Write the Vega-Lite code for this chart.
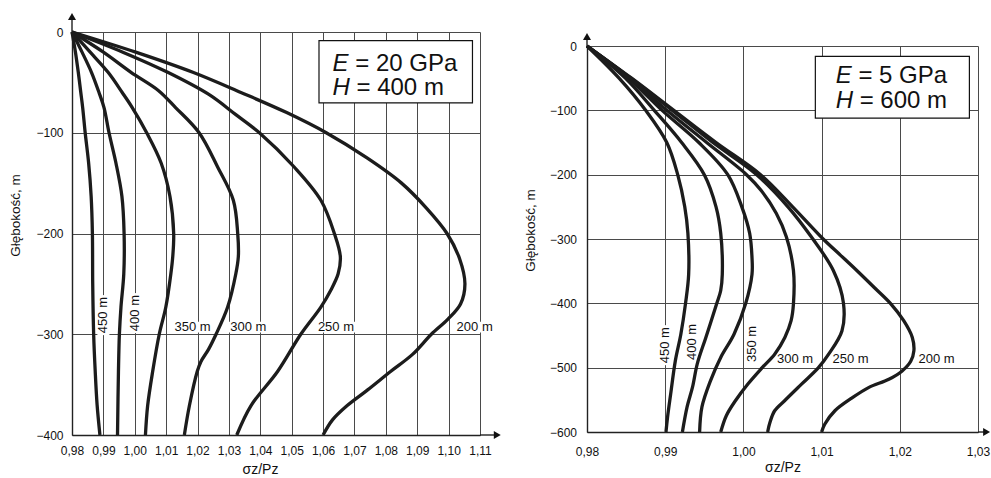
{
  "$schema": "https://vega.github.io/schema/vega-lite/v6.json",
  "background": "white",
  "padding": {"left": 8, "top": 13, "right": 0, "bottom": 0},
  "spacing": 22,
  "config": {
    "view": {"stroke": null},
    "font": "Liberation Sans",
    "axis": {
      "labelFont": "Liberation Sans", "labelFontSize": 12, "labelColor": "#111",
      "titleFont": "Liberation Sans", "titleFontWeight": "normal", "titleColor": "#111",
      "ticks": false, "gridColor": "#4a4a4a", "gridWidth": 1, "gridOpacity": 1,
      "domainColor": "#222", "domainWidth": 1.4,
      "labelOverlap": false, "labelFlush": false, "labelBound": false
    }
  },
  "datasets": {
    "L_curves": [
      {"c":"200 m","y":0,"x":0.98},{"c":"200 m","y":-20,"x":1.0003},{"c":"200 m","y":-40,"x":1.0185},{"c":"200 m","y":-60,"x":1.0338},{"c":"200 m","y":-80,"x":1.0484},{"c":"200 m","y":-100,"x":1.061},{"c":"200 m","y":-125,"x":1.074},{"c":"200 m","y":-150,"x":1.085},{"c":"200 m","y":-175,"x":1.093},{"c":"200 m","y":-200,"x":1.0995},{"c":"200 m","y":-225,"x":1.1035},{"c":"200 m","y":-250,"x":1.1052},{"c":"200 m","y":-270,"x":1.1038},{"c":"200 m","y":-285,"x":1.0998},{"c":"200 m","y":-300,"x":1.0945},{"c":"200 m","y":-320,"x":1.0885},{"c":"200 m","y":-337,"x":1.0815},{"c":"200 m","y":-355,"x":1.0743},{"c":"200 m","y":-371,"x":1.0676},{"c":"200 m","y":-385,"x":1.063},{"c":"200 m","y":-400,"x":1.06},
      {"c":"250 m","y":0,"x":0.98},{"c":"250 m","y":-20,"x":0.9962},{"c":"250 m","y":-40,"x":1.0105},{"c":"250 m","y":-62,"x":1.0236},{"c":"250 m","y":-82,"x":1.0322},{"c":"250 m","y":-100,"x":1.0397},{"c":"250 m","y":-134,"x":1.0508},{"c":"250 m","y":-167,"x":1.0593},{"c":"250 m","y":-200,"x":1.0636},{"c":"250 m","y":-223,"x":1.0655},{"c":"250 m","y":-240,"x":1.0648},{"c":"250 m","y":-256,"x":1.0625},{"c":"250 m","y":-273,"x":1.0593},{"c":"250 m","y":-300,"x":1.0529},{"c":"250 m","y":-337,"x":1.0455},{"c":"250 m","y":-371,"x":1.037},{"c":"250 m","y":-400,"x":1.0325},
      {"c":"300 m","y":0,"x":0.98},{"c":"300 m","y":-20,"x":0.99},{"c":"300 m","y":-40,"x":0.9988},{"c":"300 m","y":-58,"x":1.0075},{"c":"300 m","y":-75,"x":1.013},{"c":"300 m","y":-100,"x":1.0205},{"c":"300 m","y":-134,"x":1.0264},{"c":"300 m","y":-167,"x":1.0314},{"c":"300 m","y":-200,"x":1.0328},{"c":"300 m","y":-223,"x":1.033},{"c":"300 m","y":-240,"x":1.0322},{"c":"300 m","y":-273,"x":1.0296},{"c":"300 m","y":-300,"x":1.0259},{"c":"300 m","y":-315,"x":1.0235},{"c":"300 m","y":-327,"x":1.0211},{"c":"300 m","y":-337,"x":1.0199},{"c":"300 m","y":-371,"x":1.0174},{"c":"300 m","y":-400,"x":1.0158},
      {"c":"350 m","y":0,"x":0.98},{"c":"350 m","y":-20,"x":0.9858},{"c":"350 m","y":-40,"x":0.9915},{"c":"350 m","y":-60,"x":0.996},{"c":"350 m","y":-75,"x":0.9992},{"c":"350 m","y":-100,"x":1.0038},{"c":"350 m","y":-130,"x":1.0084},{"c":"350 m","y":-163,"x":1.0112},{"c":"350 m","y":-200,"x":1.0124},{"c":"350 m","y":-223,"x":1.0121},{"c":"350 m","y":-240,"x":1.0115},{"c":"350 m","y":-273,"x":1.0099},{"c":"350 m","y":-300,"x":1.0078},{"c":"350 m","y":-337,"x":1.0057},{"c":"350 m","y":-371,"x":1.0041},{"c":"350 m","y":-400,"x":1.0034},
      {"c":"400 m","y":0,"x":0.98},{"c":"400 m","y":-20,"x":0.9832},{"c":"400 m","y":-40,"x":0.9862},{"c":"400 m","y":-60,"x":0.9886},{"c":"400 m","y":-75,"x":0.9902},{"c":"400 m","y":-100,"x":0.9918},{"c":"400 m","y":-130,"x":0.994},{"c":"400 m","y":-163,"x":0.9959},{"c":"400 m","y":-200,"x":0.9966},{"c":"400 m","y":-240,"x":0.9965},{"c":"400 m","y":-273,"x":0.9956},{"c":"400 m","y":-300,"x":0.9951},{"c":"400 m","y":-337,"x":0.9948},{"c":"400 m","y":-400,"x":0.9945},
      {"c":"450 m","y":0,"x":0.98},{"c":"450 m","y":-20,"x":0.9811},{"c":"450 m","y":-40,"x":0.982},{"c":"450 m","y":-60,"x":0.9828},{"c":"450 m","y":-75,"x":0.9834},{"c":"450 m","y":-100,"x":0.9842},{"c":"450 m","y":-130,"x":0.9853},{"c":"450 m","y":-163,"x":0.9861},{"c":"450 m","y":-200,"x":0.9865},{"c":"450 m","y":-250,"x":0.9866},{"c":"450 m","y":-300,"x":0.9869},{"c":"450 m","y":-337,"x":0.9874},{"c":"450 m","y":-370,"x":0.988},{"c":"450 m","y":-400,"x":0.9889}
    ],
    "R_curves": [
      {"c":"200 m","y":0,"x":0.98},{"c":"200 m","y":-50,"x":0.9857},{"c":"200 m","y":-100,"x":0.9911},{"c":"200 m","y":-150,"x":0.9965},{"c":"200 m","y":-200,"x":1.0022},{"c":"200 m","y":-250,"x":1.0063},{"c":"200 m","y":-300,"x":1.0102},{"c":"200 m","y":-325,"x":1.0124},{"c":"200 m","y":-349,"x":1.0145},{"c":"200 m","y":-375,"x":1.0167},{"c":"200 m","y":-400,"x":1.0188},{"c":"200 m","y":-427,"x":1.0205},{"c":"200 m","y":-453,"x":1.0216},{"c":"200 m","y":-474,"x":1.0218},{"c":"200 m","y":-490,"x":1.0214},{"c":"200 m","y":-505,"x":1.0203},{"c":"200 m","y":-518,"x":1.0186},{"c":"200 m","y":-531,"x":1.016},{"c":"200 m","y":-547,"x":1.0139},{"c":"200 m","y":-567,"x":1.0117},{"c":"200 m","y":-588,"x":1.0104},{"c":"200 m","y":-600,"x":1.01},
      {"c":"250 m","y":0,"x":0.98},{"c":"250 m","y":-50,"x":0.9856},{"c":"250 m","y":-100,"x":0.9909},{"c":"250 m","y":-150,"x":0.9961},{"c":"250 m","y":-200,"x":1.0017},{"c":"250 m","y":-250,"x":1.0057},{"c":"250 m","y":-297,"x":1.0087},{"c":"250 m","y":-349,"x":1.0115},{"c":"250 m","y":-400,"x":1.0128},{"c":"250 m","y":-443,"x":1.0126},{"c":"250 m","y":-479,"x":1.0109},{"c":"250 m","y":-500,"x":1.0096},{"c":"250 m","y":-526,"x":1.0074},{"c":"250 m","y":-551,"x":1.0053},{"c":"250 m","y":-567,"x":1.004},{"c":"250 m","y":-585,"x":1.0034},{"c":"250 m","y":-600,"x":1.0031},
      {"c":"300 m","y":0,"x":0.98},{"c":"300 m","y":-50,"x":0.9855},{"c":"300 m","y":-100,"x":0.9902},{"c":"300 m","y":-150,"x":0.9953},{"c":"300 m","y":-200,"x":1.0004},{"c":"300 m","y":-225,"x":1.0023},{"c":"300 m","y":-260,"x":1.0042},{"c":"300 m","y":-297,"x":1.0055},{"c":"300 m","y":-349,"x":1.0064},{"c":"300 m","y":-401,"x":1.0064},{"c":"300 m","y":-427,"x":1.0061},{"c":"300 m","y":-453,"x":1.0053},{"c":"300 m","y":-479,"x":1.004},{"c":"300 m","y":-500,"x":1.0024},{"c":"300 m","y":-525,"x":1.0006},{"c":"300 m","y":-551,"x":0.999},{"c":"300 m","y":-575,"x":0.9978},{"c":"300 m","y":-600,"x":0.9971},
      {"c":"350 m","y":0,"x":0.98},{"c":"350 m","y":-50,"x":0.9853},{"c":"350 m","y":-100,"x":0.9896},{"c":"350 m","y":-150,"x":0.9943},{"c":"350 m","y":-200,"x":0.998},{"c":"350 m","y":-250,"x":0.9998},{"c":"350 m","y":-291,"x":1.0008},{"c":"350 m","y":-329,"x":1.0011},{"c":"350 m","y":-355,"x":1.0011},{"c":"350 m","y":-400,"x":1.0003},{"c":"350 m","y":-448,"x":0.9988},{"c":"350 m","y":-484,"x":0.9971},{"c":"350 m","y":-520,"x":0.9958},{"c":"350 m","y":-561,"x":0.9947},{"c":"350 m","y":-600,"x":0.9944},
      {"c":"400 m","y":0,"x":0.98},{"c":"400 m","y":-50,"x":0.9849},{"c":"400 m","y":-100,"x":0.9886},{"c":"400 m","y":-150,"x":0.9921},{"c":"400 m","y":-200,"x":0.995},{"c":"400 m","y":-250,"x":0.9965},{"c":"400 m","y":-291,"x":0.9971},{"c":"400 m","y":-355,"x":0.9973},{"c":"400 m","y":-380,"x":0.9971},{"c":"400 m","y":-400,"x":0.9966},{"c":"400 m","y":-453,"x":0.9952},{"c":"400 m","y":-494,"x":0.9941},{"c":"400 m","y":-530,"x":0.9935},{"c":"400 m","y":-561,"x":0.9928},{"c":"400 m","y":-600,"x":0.9922},
      {"c":"450 m","y":0,"x":0.98},{"c":"450 m","y":-50,"x":0.9841},{"c":"450 m","y":-100,"x":0.9875},{"c":"450 m","y":-150,"x":0.9902},{"c":"450 m","y":-200,"x":0.9916},{"c":"450 m","y":-250,"x":0.9925},{"c":"450 m","y":-291,"x":0.9929},{"c":"450 m","y":-355,"x":0.993},{"c":"450 m","y":-400,"x":0.9926},{"c":"450 m","y":-448,"x":0.992},{"c":"450 m","y":-489,"x":0.9913},{"c":"450 m","y":-541,"x":0.9907},{"c":"450 m","y":-577,"x":0.9903},{"c":"450 m","y":-600,"x":0.9901}
    ],
    "L_hlab": [
      {"t":"350 m","x":1.0184,"y":-293},{"t":"300 m","x":1.0362,"y":-293},{"t":"250 m","x":1.0641,"y":-293},{"t":"200 m","x":1.1083,"y":-293}
    ],
    "L_vlab": [
      {"t":"450 m","x":0.99,"y":-281},{"t":"400 m","x":1.0,"y":-279}
    ],
    "R_hlab": [
      {"t":"300 m","x":1.0066,"y":-486},{"t":"250 m","x":1.0137,"y":-486},{"t":"200 m","x":1.0247,"y":-486}
    ],
    "R_vlab": [
      {"t":"450 m","x":0.99,"y":-465},{"t":"400 m","x":0.9934,"y":-460},{"t":"350 m","x":1.0011,"y":-463}
    ],
    "L_box": [{"x":1.0587,"x2":1.1076,"y":-8.6,"y2":-70.4}],
    "R_box": [{"x":1.0092,"x2":1.0289,"y":-16.2,"y2":-112.1}],
    "L_boxtext": [
      {"v":"E","rest":"= 20 GPa","x":1.0630,"y":-39},
      {"v":"H","rest":"= 400 m","x":1.0630,"y":-62.5}
    ],
    "R_boxtext": [
      {"v":"E","rest":"= 5 GPa","x":1.0118,"y":-57.6},
      {"v":"H","rest":"= 600 m","x":1.0118,"y":-96.5}
    ],
    "L_shaft": [{"x":0.98,"y":0,"x2":0.98,"y2":15},{"x":1.11,"y":-400,"x2":1.1155,"y2":-400}],
    "L_tri": [{"x":0.98,"y":15.4,"s":"up"},{"x":1.1155,"y":-400,"s":"right"}],
    "R_shaft": [{"x":0.98,"y":0,"x2":0.98,"y2":14.5},{"x":1.03,"y":-600,"x2":1.0311,"y2":-600}],
    "R_tri": [{"x":0.98,"y":14.8,"s":"up"},{"x":1.0311,"y":-600,"s":"right"}],
    "spacer": [{"t":""}]
  },
  "hconcat": [
    {
      "width": 408,
      "height": 403,
      "encoding": {
        "x": {"field": "x", "type": "quantitative",
          "scale": {"domain": [0.98, 1.11], "nice": false, "zero": false},
          "axis": {"values": [0.98,0.99,1.0,1.01,1.02,1.03,1.04,1.05,1.06,1.07,1.08,1.09,1.1,1.11],
            "labelExpr": "replace(format(datum.value, '.2f'), '.', ',')",
            "title": "σz/Pz", "titleFontSize": 14, "labelPadding": 10, "titlePadding": 6, "titleX": 188}},
        "y": {"field": "y", "type": "quantitative",
          "scale": {"domain": [-400, 0], "nice": false, "zero": false},
          "axis": {"values": [-400,-300,-200,-100,0], "format": "d",
            "title": "Głębokość, m", "titleFontSize": 13.5, "labelPadding": 9, "titlePadding": 13, "titleY": 183}}
      },
      "layer": [
        {"data": {"name": "L_hlab"}, "mark": {"type": "point", "shape": "M-1,-0.27H1V0.27H-1Z", "size": 1600, "filled": true, "fill": "white", "stroke": null, "opacity": 1}},
        {"data": {"name": "L_vlab"}, "mark": {"type": "point", "shape": "M-0.3,-1H0.3V1H-0.3Z", "size": 1600, "filled": true, "fill": "white", "stroke": null, "opacity": 1}},
        {"data": {"name": "L_curves"},
         "mark": {"type": "line", "color": "#1c1c1c", "strokeWidth": 3.3, "interpolate": "catmull-rom"},
         "encoding": {"detail": {"field": "c"}, "order": {"field": "y", "sort": "descending"}}},
        {"data": {"name": "L_shaft"}, "mark": {"type": "rule", "color": "#222", "strokeWidth": 1.4},
         "encoding": {"x2": {"field": "x2"}, "y2": {"field": "y2"}}},
        {"data": {"name": "L_tri"}, "mark": {"type": "point", "filled": true, "size": 64, "color": "#111", "opacity": 1},
         "encoding": {"shape": {"field": "s", "type": "nominal", "scale": {"domain": ["up", "right"], "range": ["triangle-up", "triangle-right"]}, "legend": null}}},
        {"data": {"name": "L_box"}, "mark": {"type": "rect", "fill": "white", "stroke": "#111", "strokeWidth": 1.2},
         "encoding": {"x2": {"field": "x2"}, "y2": {"field": "y2"}}},
        {"data": {"name": "L_boxtext"}, "mark": {"type": "text", "align": "left", "baseline": "alphabetic", "fontSize": 24, "fontStyle": "italic", "color": "#111"},
         "encoding": {"text": {"field": "v"}}},
        {"data": {"name": "L_boxtext"}, "transform": [{"filter": "datum.v == 'E'"}], "mark": {"type": "text", "align": "left", "baseline": "alphabetic", "fontSize": 24, "dx": 22.7, "color": "#111"},
         "encoding": {"text": {"field": "rest"}}},
        {"data": {"name": "L_boxtext"}, "transform": [{"filter": "datum.v == 'H'"}], "mark": {"type": "text", "align": "left", "baseline": "alphabetic", "fontSize": 24, "dx": 24, "color": "#111"},
         "encoding": {"text": {"field": "rest"}}},
        {"data": {"name": "L_hlab"}, "mark": {"type": "text", "fontSize": 13, "color": "#111", "baseline": "middle"},
         "encoding": {"text": {"field": "t"}}},
        {"data": {"name": "L_vlab"}, "mark": {"type": "text", "fontSize": 13, "color": "#111", "baseline": "middle", "angle": 270},
         "encoding": {"text": {"field": "t"}}}
      ]
    },
    {
      "spacing": 0.01,
      "vconcat": [
        {
          "width": 391,
          "height": 0.01,
          "data": {"name": "spacer"},
          "mark": {"type": "text", "fontSize": 0.01, "baseline": "bottom"},
          "encoding": {"text": {"field": "t"}}
        },
        {
          "width": 391,
          "height": 386,
          "encoding": {
            "x": {"field": "x", "type": "quantitative",
              "scale": {"domain": [0.98, 1.03], "nice": false, "zero": false},
              "axis": {"values": [0.98,0.99,1.0,1.01,1.02,1.03],
                "labelExpr": "replace(format(datum.value, '.2f'), '.', ',')",
                "title": "σz/Pz", "titleFontSize": 14, "labelPadding": 14, "titlePadding": 3}},
            "y": {"field": "y", "type": "quantitative",
              "scale": {"domain": [-600, 0], "nice": false, "zero": false},
              "axis": {"values": [-600,-500,-400,-300,-200,-100,0], "format": "d",
                "title": "Głębokość, m", "titleFontSize": 13.5, "labelPadding": 10.5, "titlePadding": 12, "titleY": 184}}
          },
          "layer": [
            {"data": {"name": "R_hlab"}, "mark": {"type": "point", "shape": "M-1,-0.27H1V0.27H-1Z", "size": 1600, "filled": true, "fill": "white", "stroke": null, "opacity": 1}},
            {"data": {"name": "R_vlab"}, "mark": {"type": "point", "shape": "M-0.3,-1H0.3V1H-0.3Z", "size": 1600, "filled": true, "fill": "white", "stroke": null, "opacity": 1}},
            {"data": {"name": "R_curves"},
             "mark": {"type": "line", "color": "#1c1c1c", "strokeWidth": 3.3, "interpolate": "catmull-rom"},
             "encoding": {"detail": {"field": "c"}, "order": {"field": "y", "sort": "descending"}}},
            {"data": {"name": "R_shaft"}, "mark": {"type": "rule", "color": "#222", "strokeWidth": 1.4},
             "encoding": {"x2": {"field": "x2"}, "y2": {"field": "y2"}}},
            {"data": {"name": "R_tri"}, "mark": {"type": "point", "filled": true, "size": 64, "color": "#111", "opacity": 1},
             "encoding": {"shape": {"field": "s", "type": "nominal", "scale": {"domain": ["up", "right"], "range": ["triangle-up", "triangle-right"]}, "legend": null}}},
            {"data": {"name": "R_box"}, "mark": {"type": "rect", "fill": "white", "stroke": "#111", "strokeWidth": 1.2},
             "encoding": {"x2": {"field": "x2"}, "y2": {"field": "y2"}}},
            {"data": {"name": "R_boxtext"}, "mark": {"type": "text", "align": "left", "baseline": "alphabetic", "fontSize": 24, "fontStyle": "italic", "color": "#111"},
             "encoding": {"text": {"field": "v"}}},
            {"data": {"name": "R_boxtext"}, "transform": [{"filter": "datum.v == 'E'"}], "mark": {"type": "text", "align": "left", "baseline": "alphabetic", "fontSize": 24, "dx": 22.7, "color": "#111"},
             "encoding": {"text": {"field": "rest"}}},
            {"data": {"name": "R_boxtext"}, "transform": [{"filter": "datum.v == 'H'"}], "mark": {"type": "text", "align": "left", "baseline": "alphabetic", "fontSize": 24, "dx": 24, "color": "#111"},
             "encoding": {"text": {"field": "rest"}}},
            {"data": {"name": "R_hlab"}, "mark": {"type": "text", "fontSize": 13, "color": "#111", "baseline": "middle"},
             "encoding": {"text": {"field": "t"}}},
            {"data": {"name": "R_vlab"}, "mark": {"type": "text", "fontSize": 13, "color": "#111", "baseline": "middle", "angle": 270},
             "encoding": {"text": {"field": "t"}}}
          ]
        }
      ]
    }
  ]
}
